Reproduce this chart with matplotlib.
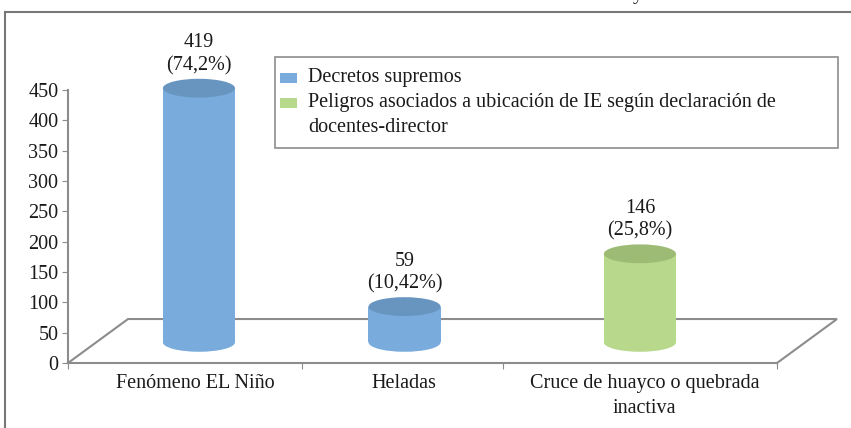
import matplotlib.pyplot as plt
from matplotlib.patches import Rectangle, Ellipse
from matplotlib.lines import Line2D
import numpy as np

# data
categories = ["Fenómeno EL Niño", "Heladas", "Cruce de huayco o quebrada\ninactiva"]
values = [419, 59, 146]
pct_labels = ["(74,2%)", "(10,42%)", "(25,8%)"]
series = ["Decretos supremos", "Decretos supremos",
          "Peligros asociados a ubicación de IE según declaración de\ndocentes-director"]
yticks = list(range(0, 451, 50))

# style / layout (3D-ish perspective imitation)
side_col = {"Decretos supremos": "#79acdd"}
top_col = {"Decretos supremos": "#6795c0"}
side_col[series[2]] = "#b8d88c"
top_col[series[2]] = "#9dbb74"
grey = "#8c8c8c"
txt = "#1a1a1a"
bar_x = [0.554, 1.424, 2.420]     # perspective shifted centres
label_x = [0.537, 1.422, 2.44]
edge_x = [0, 0.99, 1.84, 3]
bar_w = 0.305
ell_h = 31
base = 34          # depth offset of bar bases
back_y = 72.5
back_dx = 0.254

plt.rcParams['font.family'] = ['Liberation Serif', 'DejaVu Serif']
fs = 14.5

W, H = 851, 428
fig = plt.figure(figsize=(W / 100, H / 100), dpi=100)
ax = fig.add_axes([68 / W, 65 / H, 709 / W, 273 / H])
ax.set_xlim(0, 3)
ax.set_ylim(0, 450)

for s in ["top", "right"]:
    ax.spines[s].set_visible(False)
for s in ["left", "bottom"]:
    ax.spines[s].set_color(grey)
    ax.spines[s].set_linewidth(1.5)

# floor
ax.plot([0, back_dx, 3 + back_dx, 3], [0, back_y, back_y, 0], color=grey, lw=1.5,
        clip_on=False, zorder=1, solid_joinstyle='miter')

# cylinders
for x, v, s, p in zip(bar_x, values, series, pct_labels):
    ax.add_patch(Ellipse((x, base), bar_w, ell_h, color=side_col[s], lw=0, zorder=3, clip_on=False))
    ax.add_patch(Rectangle((x - bar_w / 2, base), bar_w, v, color=side_col[s], lw=0, zorder=3,
                           clip_on=False))
    ax.add_patch(Ellipse((x, base + v), bar_w, ell_h, color=top_col[s], lw=0, zorder=4, clip_on=False))
    ax.annotate(f"{v}\n{p}", (x, base + v), xytext=(0, 13), textcoords='offset pixels',
                ha='center', va='bottom', fontsize=fs, color=txt, linespacing=1.25,
                annotation_clip=False)

ax.set_yticks(yticks)
ax.set_yticklabels([str(t) for t in yticks], fontsize=fs, color=txt)
ax.tick_params(axis='y', direction='out', length=4, color=grey, pad=3)
ax.set_xticks(edge_x)
ax.set_xticklabels([])
ax.tick_params(axis='x', which='major', direction='out', length=4, color=grey)
ax.set_xticks(label_x, minor=True)
ax.set_xticklabels(categories, minor=True, fontsize=fs, color=txt, linespacing=1.45)
ax.tick_params(axis='x', which='minor', length=0, pad=8)

# legend box
def px(x, y):
    return x / W, 1 - y / H

lx0, ly0 = px(275, 148)
lx1, ly1 = px(838, 57)
fig.patches.append(Rectangle((lx0, ly0), lx1 - lx0, ly1 - ly0, transform=fig.transFigure,
                             facecolor='white', edgecolor=grey, lw=1.2, zorder=5))
leg = [("Decretos supremos", 78), (series[2], 103)]
for name, yc in leg:
    sx, sy = px(280, yc + 4.5)
    fig.patches.append(Rectangle((sx, sy), 17 / W, 9 / H, transform=fig.transFigure,
                                 color=side_col[name], lw=0, zorder=6))
    tx, ty = px(308, yc - 10)
    fig.text(tx, ty, name, ha='left', va='top', fontsize=fs, color=txt, linespacing=1.45, zorder=7)

# outer frame (cut off) and clipped title fragment
fig.add_artist(Line2D([5 / W, 1], [1 - 12 / H] * 2, color="#777777", lw=1.5))
fig.add_artist(Line2D([5 / W] * 2, [0, 1 - 12 / H], color="#777777", lw=1.5))
fig.text(638 / W, 1 + 1 / H, "y", ha='center', va='baseline', fontsize=fs, color=txt)

fig.savefig("out.png", dpi=100)
